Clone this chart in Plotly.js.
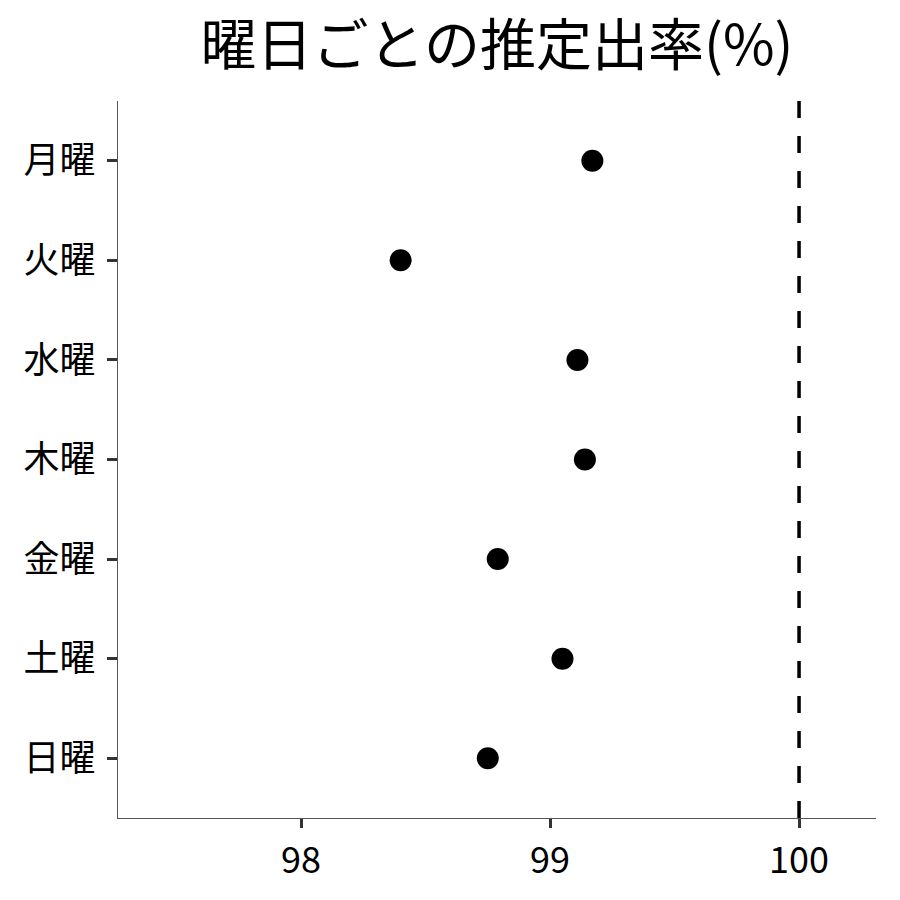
<!DOCTYPE html>
<html>
<head>
<meta charset="utf-8">
<script src="https://cdn.plot.ly/plotly-3.0.1.min.js"></script>
<style>
  html, body { margin: 0; padding: 0; background: #fff; }
  #chart { width: 900px; height: 900px; }
</style>
</head>
<body>
<div id="chart"></div>
<script>
// 曜日ごとの推定出率
let days = ["月曜", "火曜", "水曜", "木曜", "金曜", "土曜", "日曜"];
let rates = [99.17, 98.40, 99.11, 99.14, 98.79, 99.05, 98.75];
let ref_line = 100;
let x_ticks = [98, 99, 100];

let font_family = "'Noto Sans CJK JP', 'Noto Sans', sans-serif";

let points = {
    x: rates,
    y: days,
    type: 'scatter',
    mode: 'markers',
    marker: { color: '#000000', size: 22 },
    hoverinfo: 'x+y'
};

let layout = {
    width: 900,
    height: 900,
    paper_bgcolor: '#ffffff',
    plot_bgcolor: '#ffffff',
    showlegend: false,
    margin: { l: 118, r: 24, t: 101, b: 82 },
    font: { family: font_family, color: '#000000' },
    title: {
        text: '曜日ごとの推定出率(%)',
        font: { family: font_family, size: 56, color: '#000000' },
        x: 0.5,
        xref: 'paper',
        xanchor: 'center',
        y: 0.95,
        yref: 'container',
        yanchor: 'middle'
    },
    xaxis: {
        range: [97.265, 100.309],
        tickvals: x_ticks,
        ticktext: x_ticks.map(String),
        showgrid: false,
        zeroline: false,
        showline: true,
        linecolor: '#555555',
        linewidth: 1.2,
        ticks: 'outside',
        ticklen: 9,
        tickwidth: 3,
        tickcolor: '#333333',
        ticklabelstandoff: 2,
        tickfont: { family: font_family, size: 36, color: '#000000' }
    },
    yaxis: {
        type: 'category',
        categoryorder: 'array',
        categoryarray: days,
        range: [6.6, -0.6],
        showgrid: false,
        zeroline: false,
        showline: true,
        linecolor: '#555555',
        linewidth: 1.2,
        ticks: 'outside',
        ticklen: 10,
        tickwidth: 3,
        tickcolor: '#333333',
        ticklabelstandoff: 4,
        tickfont: { family: font_family, size: 36, color: '#000000' }
    },
    shapes: [
        {
            type: 'line',
            xref: 'x',
            yref: 'paper',
            x0: ref_line,
            x1: ref_line,
            y0: 0,
            y1: 1,
            line: { color: '#000000', width: 3.5, dash: '17px,18px' }
        }
    ]
};

Plotly.newPlot('chart', [points], layout, { displayModeBar: false, staticPlot: true });
</script>
</body>
</html>
